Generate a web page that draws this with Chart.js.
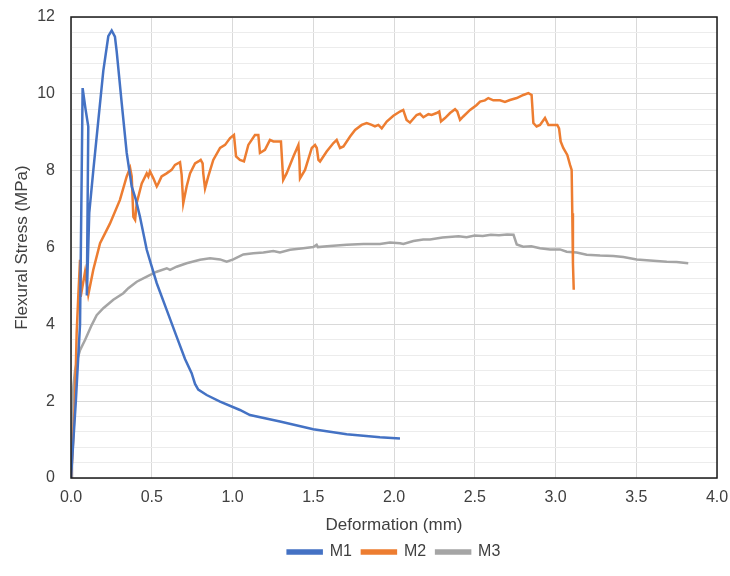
<!DOCTYPE html>
<html>
<head>
<meta charset="utf-8">
<script src="https://cdn.jsdelivr.net/npm/chart.js@4.4.1/dist/chart.umd.min.js"></script>
<style>
  html, body { margin: 0; padding: 0; background: #ffffff; }
  #wrap { position: relative; width: 730px; height: 576px; }
</style>
</head>
<body>
<div id="wrap"><canvas id="c"></canvas></div>
<script>
// ---- Data ----
const seriesNames = ["M1", "M2", "M3"];

const m1X = [0, 0.03, 0.056, 0.072, 0.09, 0.107, 0.098, 0.104, 0.113, 0.138, 0.169, 0.2, 0.231, 0.252, 0.272, 0.283, 0.314, 0.345, 0.376, 0.402, 0.427, 0.469, 0.5, 0.531, 0.593, 0.654, 0.706, 0.747, 0.768, 0.788, 0.84, 0.923, 1.046, 1.108, 1.294, 1.5, 1.707, 1.913, 2.037];
const m1Y = [0, 2.0, 4.0, 10.15, 9.6, 9.15, 4.75, 5.6, 6.9, 8.0, 9.3, 10.6, 11.5, 11.65, 11.49, 11.1, 9.76, 8.46, 7.59, 7.24, 6.8, 5.94, 5.5, 5.07, 4.37, 3.68, 3.1, 2.73, 2.45, 2.3, 2.16, 1.99, 1.77, 1.64, 1.47, 1.27, 1.14, 1.06, 1.03];

const m2X = [0, 0.011, 0.025, 0.035, 0.045, 0.056, 0.06, 0.087, 0.107, 0.138, 0.18, 0.241, 0.303, 0.345, 0.366, 0.376, 0.386, 0.397, 0.407, 0.438, 0.469, 0.479, 0.489, 0.51, 0.531, 0.541, 0.561, 0.592, 0.623, 0.644, 0.675, 0.685, 0.695, 0.716, 0.737, 0.768, 0.789, 0.803, 0.815, 0.819, 0.83, 0.85, 0.881, 0.923, 0.954, 0.985, 1.009, 1.022, 1.046, 1.071, 1.098, 1.139, 1.16, 1.17, 1.201, 1.232, 1.253, 1.284, 1.3, 1.314, 1.335, 1.377, 1.408, 1.414, 1.418, 1.449, 1.491, 1.511, 1.522, 1.532, 1.542, 1.583, 1.625, 1.645, 1.666, 1.687, 1.728, 1.759, 1.8, 1.831, 1.862, 1.882, 1.903, 1.924, 1.955, 1.996, 2.037, 2.057, 2.078, 2.099, 2.14, 2.161, 2.182, 2.213, 2.233, 2.264, 2.28, 2.291, 2.316, 2.347, 2.378, 2.392, 2.409, 2.429, 2.471, 2.512, 2.533, 2.563, 2.584, 2.615, 2.656, 2.687, 2.718, 2.76, 2.801, 2.832, 2.852, 2.863, 2.883, 2.904, 2.935, 2.956, 2.987, 3.011, 3.022, 3.032, 3.048, 3.073, 3.09, 3.1, 3.104, 3.108, 3.113];
const m2Y = [0, 0.8, 2.03, 3.77, 4.72, 5.68, 4.72, 5.37, 4.77, 5.42, 6.11, 6.62, 7.24, 7.85, 8.07, 7.85, 6.8, 6.72, 7.16, 7.67, 7.93, 7.85, 7.98, 7.8, 7.59, 7.67, 7.85, 7.93, 8.02, 8.15, 8.22, 7.9, 7.15, 7.59, 7.93, 8.19, 8.24, 8.28, 8.19, 7.93, 7.54, 7.85, 8.28, 8.59, 8.67, 8.85, 8.93, 8.37, 8.28, 8.24, 8.67, 8.93, 8.93, 8.46, 8.54, 8.8, 8.76, 8.76, 8.76, 7.76, 7.93, 8.37, 8.67, 8.28, 7.8, 8.02, 8.59, 8.67, 8.59, 8.28, 8.24, 8.5, 8.72, 8.8, 8.59, 8.63, 8.89, 9.06, 9.19, 9.24, 9.19, 9.15, 9.19, 9.1, 9.28, 9.43, 9.54, 9.58, 9.32, 9.25, 9.45, 9.48, 9.39, 9.47, 9.45, 9.5, 9.54, 9.28, 9.37, 9.5, 9.6, 9.54, 9.32, 9.41, 9.58, 9.71, 9.8, 9.83, 9.89, 9.83, 9.83, 9.79, 9.84, 9.89, 9.97, 10.02, 9.97, 9.24, 9.15, 9.19, 9.37, 9.19, 9.19, 9.19, 9.1, 8.76, 8.59, 8.41, 8.15, 8.02, 6.89, 5.59, 4.9];

const m3X = [0, 0.006, 0.015, 0.025, 0.04, 0.056, 0.087, 0.128, 0.159, 0.2, 0.262, 0.324, 0.355, 0.407, 0.469, 0.531, 0.593, 0.613, 0.654, 0.716, 0.799, 0.861, 0.923, 0.964, 1.005, 1.067, 1.129, 1.191, 1.253, 1.294, 1.356, 1.438, 1.5, 1.521, 1.529, 1.604, 1.707, 1.81, 1.913, 1.975, 2.037, 2.058, 2.12, 2.181, 2.223, 2.3, 2.4, 2.45, 2.5, 2.55, 2.6, 2.65, 2.7, 2.74, 2.76, 2.8, 2.85, 2.904, 2.966, 3.028, 3.069, 3.131, 3.193, 3.276, 3.358, 3.42, 3.503, 3.585, 3.689, 3.75, 3.822];
const m3Y = [0, 1.5, 2.4, 2.8, 3.1, 3.33, 3.59, 3.98, 4.24, 4.42, 4.64, 4.81, 4.94, 5.11, 5.24, 5.37, 5.46, 5.42, 5.5, 5.59, 5.68, 5.72, 5.69, 5.63, 5.69, 5.82, 5.85, 5.87, 5.91, 5.87, 5.94, 5.98, 6.01, 6.07, 6.01, 6.04, 6.07, 6.09, 6.09, 6.13, 6.11, 6.09, 6.17, 6.21, 6.21, 6.26, 6.29, 6.27, 6.31, 6.3, 6.33, 6.32, 6.34, 6.33, 6.08, 6.02, 6.03, 5.98, 5.95, 5.95, 5.89, 5.87, 5.81, 5.79, 5.78, 5.75, 5.69, 5.66, 5.63, 5.62, 5.59];

const xTickValues = [0, 0.5, 1.0, 1.5, 2.0, 2.5, 3.0, 3.5, 4.0];
const yTickValues = [0, 2, 4, 6, 8, 10, 12];

const colors = ["#4472C4", "#ED7D31", "#A5A5A5"];

function pts(xs, ys) { return xs.map((x, i) => ({ x: x, y: ys[i] })); }
const seriesData = [pts(m1X, m1Y), pts(m2X, m2Y), pts(m3X, m3Y)];

function isMajor(v) { return yTickValues.some(t => Math.abs(t - v) < 1e-6); }

const borderPlugin = {
  id: 'plotBorder',
  afterDraw(chart) {
    const a = chart.chartArea, ctx = chart.ctx;
    ctx.save();
    ctx.strokeStyle = '#1a1a1a';
    ctx.lineWidth = 1.5;
    ctx.strokeRect(a.left, a.top, a.right - a.left, a.bottom - a.top);
    ctx.restore();
  }
};

const FONT = "'Liberation Sans', Arial, sans-serif";
const TXT = '#404040';

new Chart(document.getElementById('c'), {
  type: 'line',
  data: {
    datasets: seriesNames.map((n, i) => ({
      label: n,
      data: seriesData[i],
      borderColor: colors[i],
      backgroundColor: colors[i],
      borderWidth: 2.5,
      pointRadius: 0,
      tension: 0,
      fill: false
    }))
  },
  plugins: [borderPlugin],
  options: {
    responsive: true,
    maintainAspectRatio: false,
    animation: false,
    layout: { padding: { left: 0, right: 13, top: 17, bottom: 6 } },
    plugins: {
      legend: {
        position: 'bottom',
        fullSize: false,
        labels: {
          boxWidth: 34, boxHeight: 3, padding: 10,
          color: TXT,
          font: { family: FONT, size: 16 }
        }
      },
      tooltip: { enabled: false }
    },
    scales: {
      x: {
        type: 'linear', min: 0, max: 4,
        afterBuildTicks: (s) => { s.ticks = xTickValues.map(v => ({ value: v })); },
        afterFit: (s) => { s.height = 56; s.paddingLeft = 0; s.paddingRight = 0; },
        grid: { color: '#d9d9d9', lineWidth: 1, drawTicks: false },
        border: { display: false },
        ticks: {
          padding: 10, color: TXT, font: { family: FONT, size: 16 },
          callback: (v) => Number(v).toFixed(1), autoSkip: false, maxRotation: 0
        },
        title: {
          display: true, text: 'Deformation (mm)', color: TXT,
          font: { family: FONT, size: 17 }, padding: { top: 0, bottom: -2 }
        }
      },
      y: {
        type: 'linear', min: 0, max: 12,
        ticks: {
          stepSize: 0.4, autoSkip: false, padding: 16, color: TXT,
          font: { family: FONT, size: 16 },
          callback: (v) => isMajor(v) ? String(Math.round(v)) : ''
        },
        afterFit: (s) => { s.width = 71; s.paddingTop = 0; s.paddingBottom = 0; },
        grid: {
          drawTicks: false,
          color: (ctx) => isMajor(ctx.tick.value) ? '#d9d9d9' : '#ececec',
          lineWidth: 1
        },
        border: { display: false },
        title: {
          display: true, text: 'Flexural Stress (MPa)', color: TXT,
          font: { family: FONT, size: 17 }, padding: { top: 12, bottom: 0 }
        }
      }
    }
  }
});
</script>
</body>
</html>
